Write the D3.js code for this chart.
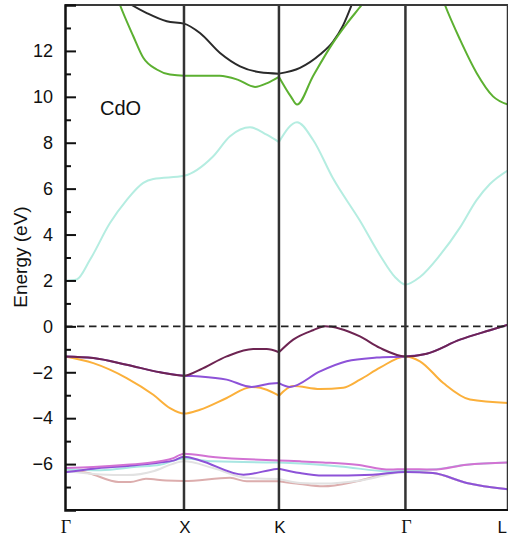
<!DOCTYPE html>
<html><head><meta charset="utf-8">
<script src="https://cdn.jsdelivr.net/npm/d3@7/dist/d3.min.js"></script>
<style>body{margin:0;background:#fff}</style>
</head><body>
<svg id="c" width="508" height="538"></svg>
<script>
// ---- data ----
const kLabels = ["Γ", "X", "K", "Γ", "L"];
const kPositions = [0, 1.0, 1.798, 2.861, 3.723];
const yTicks = [-6, -4, -2, 0, 2, 4, 6, 8, 10, 12];
const yMinorTicks = [-7, -5, -3, -1, 1, 3, 5, 7, 9, 11, 13];
const materialLabel = "CdO";

const bandCond1 = [[0,1.98],[0.098,2.04],[0.21,2.9],[0.378,4.5],[0.518,5.5],[0.658,6.25],[0.742,6.42],[1.0,6.56],
  [1.244,7.4],[1.387,8.28],[1.555,8.67],[1.695,8.35],[1.798,8.03],
  [1.95,8.89],[2.084,8.13],[2.252,6.45],[2.479,4.6],[2.647,3.1],[2.773,2.15],[2.861,1.82],
  [2.983,2.15],[3.151,3.1],[3.319,4.3],[3.459,5.5],[3.571,6.2],[3.723,6.8]];
const bandCond2 = [[0.2,18.0],[0.38,15.2],[0.462,14.0],[0.574,12.64],[0.658,11.7],[0.771,11.19],[0.882,10.97],[1.0,10.92],
  [1.3,10.92],[1.45,10.75],[1.597,10.43],[1.7,10.6],[1.798,10.87],
  [1.9,10.0],[1.95,9.66],[2.084,10.9],[2.252,12.35],[2.37,13.2],[2.493,14.0],[2.58,14.6],[2.75,16.5],[2.861,17.5],
  [3.0,17.0],[3.109,15.2],[3.193,14.0],[3.319,12.5],[3.459,11.04],[3.597,10.02],[3.723,9.66]];
const bandCond3 = [[0.1,17.5],[0.3,15.0],[0.56,14.0],[0.687,13.65],[0.855,13.29],[1.0,13.19],
  [1.134,12.78],[1.303,11.91],[1.471,11.33],[1.639,11.07],[1.798,11.01],
  [1.975,11.26],[2.143,11.84],[2.252,12.4],[2.336,13.1],[2.409,14.0],[2.479,15.0],[2.6,17.0]];

const bandVal1 = [[0,-1.31],[0.238,-1.38],[0.518,-1.67],[0.798,-2.0],[1.0,-2.15],
  [1.134,-1.89],[1.359,-1.31],[1.582,-0.99],[1.695,-0.99],[1.798,-1.13],
  [1.918,-0.58],[2.084,-0.17],[2.185,0.0],[2.311,-0.1],[2.479,-0.44],[2.647,-0.94],[2.861,-1.31],
  [3.04,-1.19],[3.319,-0.58],[3.571,-0.17],[3.723,0.07]];
const bandVal2 = [[0,-1.31],[0.238,-1.38],[0.518,-1.67],[0.798,-2.0],[1.0,-2.15],
  [1.134,-2.18],[1.359,-2.32],[1.569,-2.64],[1.695,-2.52],[1.798,-2.47],
  [1.891,-2.64],[2.143,-1.96],[2.367,-1.52],[2.619,-1.36],[2.861,-1.31],
  [3.04,-1.19],[3.319,-0.58],[3.571,-0.17],[3.723,0.07]];
const bandVal3 = [[0,-1.31],[0.238,-1.6],[0.518,-2.25],[0.742,-2.98],[0.882,-3.56],[1.0,-3.8],
  [1.134,-3.63],[1.359,-3.12],[1.569,-2.64],[1.695,-2.76],[1.798,-3.02],
  [1.918,-2.6],[2.143,-2.73],[2.339,-2.67],[2.479,-2.32],[2.647,-1.8],[2.861,-1.31],
  [2.983,-1.52],[3.179,-2.47],[3.403,-3.19],[3.723,-3.34]];

const bandLow1 = [[0,-6.17],[0.238,-6.13],[0.518,-6.03],[0.798,-5.88],[0.91,-5.74],[0.966,-5.6],[1.0,-5.55],
  [1.244,-5.69],[1.798,-5.84],
  [1.975,-5.88],[2.168,-5.93],[2.451,-6.03],[2.731,-6.24],[2.861,-6.22],
  [3.092,-6.24],[3.376,-6.03],[3.723,-5.93]];
const bandLow2 = [[0,-6.36],[0.238,-6.2],[0.518,-6.08],[0.798,-5.93],[0.91,-5.85],[1.0,-5.68],
  [1.134,-5.84],[1.5,-6.46],[1.779,-6.21],[1.798,-6.2],
  [1.975,-6.39],[2.168,-6.5],[2.588,-6.46],[2.861,-6.34],
  [3.092,-6.39],[3.376,-6.82],[3.723,-7.1]];
const bandLow3 = [[0,-6.24],[0.3,-6.27],[0.6,-6.12],[0.798,-6.03],[1.0,-5.76],
  [1.244,-5.88],[1.798,-5.93],
  [1.891,-5.95],[2.311,-6.1],[2.731,-6.32],[2.861,-6.3],
  [3.092,-6.24],[3.376,-6.03],[3.723,-5.93]];
const bandLow4 = [[0,-6.3],[0.3,-6.45],[0.518,-6.48],[0.75,-6.3],[0.9,-6.0],[1.0,-5.88],
  [1.244,-6.17],[1.527,-6.6],[1.798,-6.65],
  [1.975,-6.82],[2.168,-6.85],[2.5,-6.7],[2.861,-6.34],
  [3.092,-6.39],[3.376,-6.82],[3.723,-7.1]];
const bandLow5 = [[0,-6.24],[0.2,-6.4],[0.45,-6.78],[0.55,-6.78],[0.68,-6.64],[0.85,-6.72],[1.0,-6.74],
  [1.387,-6.6],[1.527,-6.75],[1.798,-6.75],
  [1.975,-6.87],[2.168,-6.97],[2.451,-6.75],[2.731,-6.39],[2.861,-6.32],
  [3.092,-6.39],[3.376,-6.82],[3.723,-7.1]];

const bandData = [bandLow5, bandLow4, bandLow3, bandLow2, bandLow1, bandVal3, bandVal2, bandVal1, bandCond1, bandCond3, bandCond2];
const bandColors = ["#dcadad", "#e2e2e2", "#a8e6e2", "#8d52d8", "#d272d3", "#fbb03b", "#8d52d8", "#6d2452", "#b5ede1", "#2a2a2a", "#5cb031"];

// ---- drawing ----
const W = 508, H = 538;
const m = {left: 65, top: 5, right: 0, bottom: 28};
const svg = d3.select("#c");
const x = d3.scaleLinear().domain([kPositions[0], kPositions[kPositions.length-1]]).range([m.left, W - m.right]);
const y = d3.scaleLinear().domain([-8, 14]).range([H - m.bottom, m.top]);

svg.append("clipPath").attr("id","clip").append("rect")
  .attr("x", m.left).attr("y", m.top).attr("width", W - m.left - m.right).attr("height", H - m.top - m.bottom);

const line = d3.line().x(d => x(d[0])).y(d => y(d[1])).curve(d3.curveMonotoneX);
const kK = kPositions[2];
const g = svg.append("g").attr("clip-path","url(#clip)");
bandData.forEach((band, i) => {
  const parts = [band.filter(d => d[0] <= kK), band.filter(d => d[0] >= kK)];
  parts.forEach(p => {
    g.append("path").attr("d", line(p)).attr("fill","none")
      .attr("stroke", bandColors[i]).attr("stroke-width", 2).attr("stroke-linejoin","round");
  });
});

// zero dashed line
svg.append("line").attr("x1", x.range()[0]).attr("x2", x.range()[1]).attr("y1", y(0)).attr("y2", y(0))
  .attr("stroke","#222").attr("stroke-width",1.7).attr("stroke-dasharray","7.5,4.5");

// vertical high-symmetry lines
kPositions.slice(1).forEach(k => {
  svg.append("line").attr("x1", x(k)).attr("x2", x(k)).attr("y1", y(14)).attr("y2", y(-8))
    .attr("stroke","#333").attr("stroke-width",2.5);
});

// frame top & bottom
svg.append("line").attr("x1", m.left).attr("x2", W).attr("y1", y(14)).attr("y2", y(14))
  .attr("stroke","#3a3a3a").attr("stroke-width",2.2);
svg.append("line").attr("x1", m.left).attr("x2", W).attr("y1", y(-8)).attr("y2", y(-8))
  .attr("stroke","#111").attr("stroke-width",2.2);

// y axis
const yAxis = d3.axisRight(y).tickValues(yTicks).tickSize(11).tickFormat(d3.format("d"));
const ya = svg.append("g").attr("transform", `translate(${m.left},0)`).call(yAxis);
ya.select(".domain").attr("stroke","#111").attr("stroke-width",2.5);
ya.selectAll(".tick line").attr("stroke","#111").attr("stroke-width",2);
ya.selectAll(".tick text").attr("x", -12).attr("text-anchor","end")
  .style("font-family","Liberation Sans, Arial, sans-serif").style("font-size","18px").attr("fill","#111");
const yMinor = d3.axisRight(y).tickValues(yMinorTicks).tickSize(6).tickFormat("");
const ym = svg.append("g").attr("transform", `translate(${m.left},0)`).call(yMinor);
ym.select(".domain").remove();
ym.selectAll(".tick line").attr("stroke","#111").attr("stroke-width",2);

// x labels
kLabels.forEach((lab, i) => {
  const last = i === kLabels.length - 1;
  svg.append("text").attr("x", last ? W - 1 : x(kPositions[i]) + 1).attr("y", 533)
    .attr("text-anchor", last ? "end" : "middle")
    .style("font-family", lab === "Γ" ? "Liberation Serif, Times New Roman, serif" : "Liberation Sans, Arial, sans-serif")
    .style("font-size", lab === "Γ" ? "18px" : "17px").attr("fill","#111").text(lab);
});

// y label
svg.append("text").attr("transform", `translate(27,257) rotate(-90)`).attr("text-anchor","middle")
  .style("font-family","Liberation Sans, Arial, sans-serif").style("font-size","19px").attr("fill","#111")
  .text("Energy (eV)");

// material label
svg.append("text").attr("x", 100).attr("y", 115)
  .style("font-family","Liberation Sans, Arial, sans-serif").style("font-size","20px").attr("fill","#111")
  .text(materialLabel);
</script>
</body></html>
